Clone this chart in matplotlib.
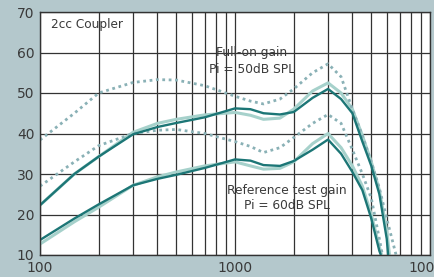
import matplotlib
matplotlib.use('Agg')
import matplotlib.pyplot as plt
from matplotlib.ticker import FixedLocator, NullFormatter

# Frecuencias (Hz) y ganancias (dB)
freq = [100, 150, 200, 300, 400, 500, 700, 1000, 1200, 1400, 1700, 2000,
        2500, 3000, 3500, 4000, 4500, 5000, 5500, 6000]

full_max = [38.4, 45.0, 50.0, 52.6, 53.3, 53.2, 51.8, 49.2, 48.0, 47.3, 48.5, 51.0,
            55.0, 57.2, 54.0, 46.0, 39.5, 33.0, 26.5, 19.0]
full_dark = [22.3, 30.0, 34.3, 39.8, 41.6, 42.6, 44.0, 46.2, 46.0, 45.0, 44.7, 45.3,
             48.8, 51.0, 48.5, 45.0, 38.0, 32.0, 25.0, 14.0]
full_light = [22.3, 30.0, 34.3, 40.3, 42.5, 43.5, 44.6, 45.2, 44.5, 43.5, 43.8, 46.0,
              50.5, 52.5, 50.0, 46.0, 39.5, 33.0, 26.0, 16.0]
mid_dotted = [27.0, 33.0, 37.0, 40.0, 40.8, 41.0, 40.0, 38.0, 36.8, 35.3, 36.5, 39.0,
              42.5, 44.7, 42.5, 36.0, 30.0, 24.0, 14.0]
ref_dark = [13.7, 19.0, 22.5, 27.2, 28.8, 29.8, 31.5, 33.6, 33.3, 32.2, 32.0, 33.2,
            36.0, 38.5, 35.0, 30.5, 26.0, 19.0, 11.0]
ref_light = [12.7, 18.2, 21.8, 27.2, 29.3, 30.5, 32.0, 33.0, 32.0, 31.2, 31.4, 33.0,
             37.5, 40.0, 36.5, 32.0, 27.0, 20.0, 12.0]

# extremos donde cada curva cae a 10 dB
end_full_max = (6700, 10)
end_full_dark = (6100, 10)
end_full_light = (6200, 10)
end_mid = (5700, 10)
end_ref_dark = (5600, 10)
end_ref_light = (5650, 10)

bg = '#b4c8cc'
dark = '#1c7676'
light = '#a6d1cb'
dotc = '#8ab1b6'
txt = '#3a3a3a'


def serie(vals, end):
    x = freq[:len(vals)] + [end[0]]
    y = vals + [end[1]]
    return x, y


fig = plt.figure(figsize=(4.35, 2.77), dpi=100, facecolor=bg)
ax = fig.add_axes([40 / 435, 1 - 255 / 277, 390 / 435, 243 / 277])
ax.set_facecolor('white')

ax.set_xscale('log')
ax.set_xlim(100, 10000)
ax.set_ylim(10, 70)

# Rejilla
minors = [m * d for d in (100, 1000) for m in range(2, 10)]
ax.xaxis.set_minor_locator(FixedLocator(minors))
ax.xaxis.set_minor_formatter(NullFormatter())
ax.xaxis.set_major_locator(FixedLocator([100, 1000, 10000]))
ax.set_xticklabels(['100', '1000', '10000'])
ax.set_yticks(range(10, 80, 10))
ax.grid(True, which='both', axis='x', color='#333333', lw=0.9)
ax.grid(True, which='major', axis='y', color='#333333', lw=0.9)
ax.tick_params(which='both', length=0, colors=txt, labelsize=10, pad=4)
for s in ax.spines.values():
    s.set_color('#333333')
    s.set_linewidth(1.0)

dots = (0, (1, 1.3))

# Curvas claras primero, oscuras encima
x, y = serie(full_light, end_full_light)
ax.plot(x, y, color=light, lw=2.2, solid_capstyle='butt')
x, y = serie(ref_light, end_ref_light)
ax.plot(x, y, color=light, lw=2.2, solid_capstyle='butt')

x, y = serie(full_max, end_full_max)
ax.plot(x, y, color=dotc, lw=2.0, ls=dots)
x, y = serie(mid_dotted, end_mid)
ax.plot(x, y, color=dotc, lw=2.0, ls=dots)

x, y = serie(full_dark, end_full_dark)
ax.plot(x, y, color=dark, lw=1.7, solid_capstyle='butt')
x, y = serie(ref_dark, end_ref_dark)
ax.plot(x, y, color=dark, lw=1.7, solid_capstyle='butt')

# Textos
ax.text(0.027, 0.95, '2cc Coupler', transform=ax.transAxes, fontsize=8.7,
        color=txt, va='center', ha='left')
ax.text(1222, 59.9, 'Full-on gain', fontsize=8.8, color=txt, ha='center', va='center')
ax.text(1222, 55.8, 'Pi = 50dB SPL', fontsize=8.8, color=txt, ha='center', va='center')
ax.text(1848, 26.0, 'Reference test gain', fontsize=8.8, color=txt, ha='center', va='center')
ax.text(1848, 22.3, 'Pi = 60dB SPL', fontsize=8.8, color=txt, ha='center', va='center')

fig.savefig('out.png', dpi=100, facecolor=bg)
